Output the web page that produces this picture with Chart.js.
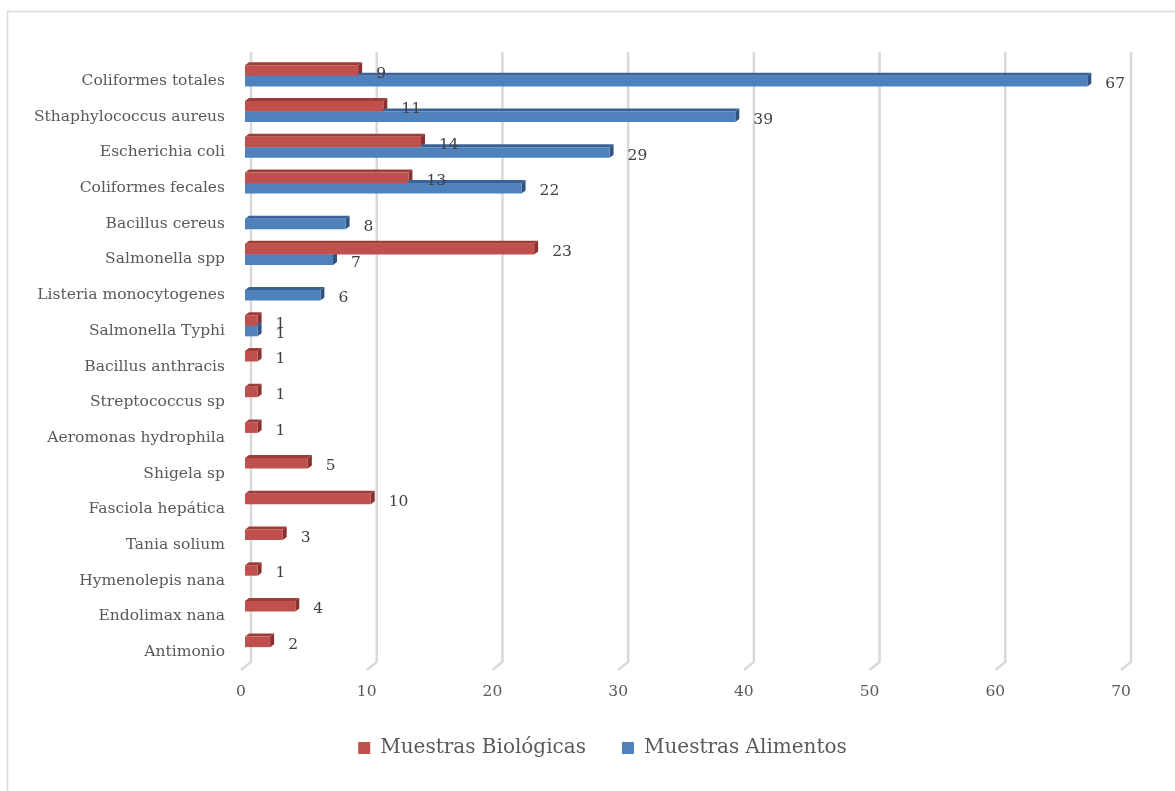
<!DOCTYPE html>
<html>
<head>
<meta charset="utf-8">
<script src="https://cdn.jsdelivr.net/npm/chart.js@4/dist/chart.umd.min.js"></script>
<style>
  html, body { margin: 0; padding: 0; background: #ffffff; }
  #wrap { position: relative; width: 1175px; height: 791px; }
</style>
</head>
<body>
<div id="wrap"><canvas id="chart"></canvas></div>
<script>
// Microorganismos aislados por tipo de muestra
const categories = [
  'Coliformes totales', 'Sthaphylococcus aureus', 'Escherichia coli', 'Coliformes fecales',
  'Bacillus cereus', 'Salmonella spp', 'Listeria monocytogenes', 'Salmonella Typhi',
  'Bacillus anthracis', 'Streptococcus sp', 'Aeromonas hydrophila', 'Shigela sp',
  'Fasciola hepática', 'Tania solium', 'Hymenolepis nana', 'Endolimax nana', 'Antimonio'
];
const muestrasBiologicas = [9, 11, 14, 13, null, 23, null, 1, 1, 1, 1, 5, 10, 3, 1, 4, 2];
const muestrasAlimentos  = [67, 39, 29, 22, 8, 7, 6, 1, null, null, null, null, null, null, null, null, null];
const xTicks = [0, 10, 20, 30, 40, 50, 60, 70];

const FONT = "'DejaVu Serif', 'Liberation Serif', serif";
const TEXT = '#595959';
const GRID = '#d9d9d9';
const DEPTH_X = 4, DEPTH_Y = -3;
const LEGEND_SHIFT = 40;

// Outer frame of the chart area
const framePlugin = {
  id: 'frame',
  beforeDraw(chart) {
    const ctx = chart.ctx;
    ctx.save();
    ctx.strokeStyle = GRID;
    ctx.lineWidth = 1.5;
    ctx.beginPath();
    ctx.moveTo(7.5, chart.height);
    ctx.lineTo(7.5, 11.5);
    ctx.lineTo(chart.width, 11.5);
    ctx.stroke();
    ctx.restore();
  }
};

// Legend sits centred under the plot rather than the whole canvas
const legendShiftPlugin = {
  id: 'legendShift',
  afterLayout(chart) {
    if (chart.legend) {
      chart.legend.left += LEGEND_SHIFT;
      chart.legend.right += LEGEND_SHIFT;
    }
  }
};

// Gridlines drawn as back wall + floor edge
const wallGridPlugin = {
  id: 'wallGrid',
  beforeDatasetsDraw(chart) {
    const ctx = chart.ctx;
    const xs = chart.scales.x;
    const area = chart.chartArea;
    ctx.save();
    ctx.strokeStyle = GRID;
    ctx.lineWidth = 2.5;
    ctx.lineJoin = 'miter';
    xTicks.forEach(v => {
      const x = xs.getPixelForValue(v) + 6;
      ctx.beginPath();
      ctx.moveTo(x, 52);
      ctx.lineTo(x, area.bottom - 3);
      ctx.lineTo(x - 10, area.bottom + 5);
      ctx.stroke();
    });
    ctx.restore();
  }
};

// Depth faces (top and end) of every bar, painted under the front faces
const depthColors = [
  { top: '#9e3c3a', side: '#8a302e' },
  { top: '#3b6294', side: '#2f5382' }
];
const barDepthPlugin = {
  id: 'barDepth',
  beforeDatasetsDraw(chart) {
    const ctx = chart.ctx;
    ctx.save();
    chart.data.datasets.forEach((ds, di) => {
      const meta = chart.getDatasetMeta(di);
      meta.data.forEach((bar, i) => {
        if (ds.data[i] == null) return;
        const p = bar.getProps(['x', 'y', 'base', 'height'], true);
        const top = p.y - p.height / 2;
        const bottom = p.y + p.height / 2;
        ctx.fillStyle = depthColors[di].top;
        ctx.beginPath();
        ctx.moveTo(p.base, top);
        ctx.lineTo(p.base + DEPTH_X, top + DEPTH_Y);
        ctx.lineTo(p.x + DEPTH_X, top + DEPTH_Y);
        ctx.lineTo(p.x, top);
        ctx.closePath();
        ctx.fill();
        ctx.fillStyle = depthColors[di].side;
        ctx.beginPath();
        ctx.moveTo(p.x, top);
        ctx.lineTo(p.x + DEPTH_X, top + DEPTH_Y);
        ctx.lineTo(p.x + DEPTH_X, bottom + DEPTH_Y);
        ctx.lineTo(p.x, bottom);
        ctx.closePath();
        ctx.fill();
      });
    });
    ctx.restore();
  }
};

// Value labels at the end of each bar
const valueLabelPlugin = {
  id: 'valueLabels',
  afterDatasetsDraw(chart) {
    const ctx = chart.ctx;
    ctx.save();
    ctx.font = '15.5px ' + FONT;
    ctx.fillStyle = '#404040';
    ctx.textAlign = 'left';
    ctx.textBaseline = 'middle';
    chart.data.datasets.forEach((ds, di) => {
      const meta = chart.getDatasetMeta(di);
      meta.data.forEach((bar, i) => {
        const v = ds.data[i];
        if (v == null) return;
        const p = bar.getProps(['x', 'y'], true);
        ctx.fillText(String(v), p.x + 18, p.y + 3);
      });
    });
    ctx.restore();
  }
};

new Chart(document.getElementById('chart'), {
  type: 'bar',
  data: {
    labels: categories,
    datasets: [
      {
        label: 'Muestras Biológicas',
        data: muestrasBiologicas,
        backgroundColor: '#c0504d',
        borderWidth: 0
      },
      {
        label: 'Muestras Alimentos',
        data: muestrasAlimentos,
        backgroundColor: '#4f81bd',
        borderWidth: 0
      }
    ]
  },
  options: {
    indexAxis: 'y',
    responsive: true,
    maintainAspectRatio: false,
    animation: false,
    layout: { padding: { top: 58, right: 50, bottom: 23, left: 0 } },
    datasets: { bar: { categoryPercentage: 0.59, barPercentage: 1.0 } },
    scales: {
      x: {
        min: 0,
        max: 70,
        border: { display: false },
        grid: { display: false, drawTicks: false },
        ticks: {
          stepSize: 10,
          padding: 18,
          labelOffset: -4,
          color: TEXT,
          font: { family: FONT, size: 15.5 }
        },
        afterFit(scale) { scale.height = 37; }
      },
      y: {
        border: { display: false },
        grid: { display: false, drawTicks: false },
        ticks: {
          padding: 20,
          labelOffset: 5,
          autoSkip: false,
          color: TEXT,
          font: { family: FONT, size: 15.5 }
        },
        afterFit(scale) { scale.width = 245; }
      }
    },
    plugins: {
      legend: {
        position: 'bottom',
        labels: {
          boxWidth: 12,
          boxHeight: 12,
          padding: 36,
          color: TEXT,
          font: { family: FONT, size: 20 }
        }
      },
      tooltip: { enabled: false }
    }
  },
  plugins: [framePlugin, legendShiftPlugin, wallGridPlugin, barDepthPlugin, valueLabelPlugin]
});
</script>
</body>
</html>
